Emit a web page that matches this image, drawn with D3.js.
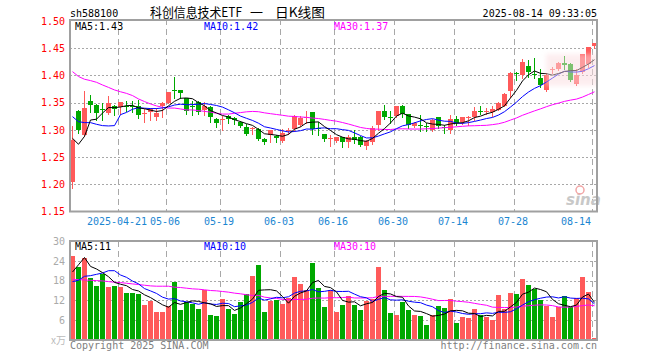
<!DOCTYPE html>
<html>
<head>
<meta charset="utf-8">
<title>科创信息技术ETF 日K线图</title>
<style>
  body { margin: 0; background: #fff; }
  svg { display: block; }
  text { font-family: "DejaVu Sans Mono", "Liberation Mono", monospace; font-size: 10px; }
</style>
</head>
<body>
<svg width="660" height="360"></svg>
<script src="https://d3js.org/d3.v7.min.js"></script>
<script>
// trading days shown, 2025-04-09 .. 2025-08-14
var dates = [
  '2025-04-09','2025-04-10','2025-04-11','2025-04-14','2025-04-15','2025-04-16','2025-04-17','2025-04-18',
  '2025-04-21','2025-04-22','2025-04-23','2025-04-24','2025-04-25','2025-04-28','2025-04-29','2025-04-30',
  '2025-05-06','2025-05-07','2025-05-08','2025-05-09','2025-05-12','2025-05-13','2025-05-14','2025-05-15',
  '2025-05-16','2025-05-19','2025-05-20','2025-05-21','2025-05-22','2025-05-23','2025-05-26','2025-05-27',
  '2025-05-28','2025-05-29','2025-05-30','2025-06-03','2025-06-04','2025-06-05','2025-06-06','2025-06-09',
  '2025-06-10','2025-06-11','2025-06-12','2025-06-13','2025-06-16','2025-06-17','2025-06-18','2025-06-19',
  '2025-06-20','2025-06-23','2025-06-24','2025-06-25','2025-06-26','2025-06-27','2025-06-30','2025-07-01',
  '2025-07-02','2025-07-03','2025-07-04','2025-07-07','2025-07-08','2025-07-09','2025-07-10','2025-07-11',
  '2025-07-14','2025-07-15','2025-07-16','2025-07-17','2025-07-18','2025-07-21','2025-07-22','2025-07-23',
  '2025-07-24','2025-07-25','2025-07-28','2025-07-29','2025-07-30','2025-07-31','2025-08-01','2025-08-04',
  '2025-08-05','2025-08-06','2025-08-07','2025-08-08','2025-08-11','2025-08-12','2025-08-13','2025-08-14'
];

var open = [
  1.205,1.334,1.291,1.353,1.346,1.339,1.331,1.344,1.342,1.344,
  1.343,1.343,1.330,1.334,1.323,1.344,1.349,1.373,1.373,1.358,
  1.344,1.352,1.335,1.342,1.320,1.318,1.326,1.322,1.314,1.306,
  1.302,1.302,1.283,1.291,1.289,1.280,1.299,1.303,1.309,1.323,
  1.332,1.303,1.293,1.284,1.278,1.286,1.277,1.286,1.286,1.270,
  1.277,1.309,1.334,1.324,1.326,1.344,1.329,1.307,1.309,1.307,
  1.299,1.323,1.305,1.299,1.320,1.313,1.322,1.323,1.334,1.333,
  1.332,1.338,1.344,1.372,1.405,1.401,1.418,1.402,1.395,1.373,
  1.410,1.411,1.422,1.421,1.384,1.407,1.422,1.453
];
var high = [
  1.307,1.336,1.372,1.364,1.347,1.349,1.362,1.345,1.352,1.353,
  1.353,1.354,1.338,1.340,1.341,1.352,1.370,1.398,1.374,1.359,
  1.353,1.353,1.351,1.343,1.321,1.326,1.327,1.324,1.317,1.311,
  1.306,1.304,1.285,1.300,1.290,1.301,1.303,1.328,1.326,1.334,
  1.332,1.315,1.293,1.291,1.287,1.287,1.291,1.300,1.288,1.282,
  1.307,1.334,1.346,1.335,1.344,1.346,1.330,1.315,1.328,1.313,
  1.320,1.324,1.309,1.328,1.326,1.324,1.326,1.342,1.344,1.340,
  1.343,1.352,1.368,1.407,1.407,1.430,1.429,1.432,1.411,1.404,
  1.415,1.424,1.436,1.422,1.411,1.440,1.453,1.460
];
var low = [
  1.194,1.294,1.289,1.332,1.318,1.319,1.329,1.328,1.330,1.334,
  1.333,1.322,1.315,1.318,1.318,1.323,1.349,1.358,1.359,1.330,
  1.328,1.330,1.328,1.315,1.306,1.300,1.312,1.310,1.305,1.291,
  1.292,1.281,1.274,1.277,1.277,1.278,1.292,1.297,1.307,1.312,
  1.292,1.291,1.280,1.271,1.277,1.268,1.269,1.275,1.270,1.264,
  1.274,1.300,1.320,1.313,1.324,1.323,1.303,1.306,1.297,1.297,
  1.297,1.303,1.294,1.295,1.309,1.311,1.309,1.318,1.329,1.329,
  1.326,1.337,1.343,1.361,1.392,1.395,1.398,1.395,1.378,1.372,
  1.405,1.410,1.411,1.389,1.383,1.405,1.416,1.451
];
var close = [
  1.282,1.299,1.340,1.346,1.331,1.338,1.350,1.339,1.352,1.343,
  1.341,1.327,1.331,1.339,1.331,1.350,1.370,1.372,1.367,1.334,
  1.343,1.334,1.343,1.323,1.312,1.320,1.320,1.318,1.306,1.293,
  1.304,1.283,1.278,1.300,1.286,1.294,1.300,1.326,1.321,1.324,
  1.300,1.302,1.283,1.285,1.286,1.277,1.286,1.280,1.272,1.280,
  1.303,1.334,1.323,1.323,1.344,1.329,1.309,1.312,1.308,1.306,
  1.318,1.306,1.304,1.320,1.313,1.323,1.323,1.334,1.333,1.334,
  1.338,1.350,1.366,1.405,1.404,1.424,1.407,1.401,1.383,1.401,
  1.411,1.422,1.419,1.392,1.401,1.440,1.453,1.459
];
// volume (万)
var volume = [
  25.4,22.2,24.9,18.8,16.3,19.9,16.0,16.3,16.0,14.1,
  14.1,13.8,10.5,11.8,8.6,8.6,10.2,17.6,9.0,11.5,
  11.0,9.4,15.3,7.7,7.4,12.3,9.4,8.0,11.5,13.8,
  19.3,22.7,8.6,11.8,12.0,10.8,12.6,19.0,16.9,15.1,
  23.4,15.8,10.0,15.1,8.6,10.5,13.2,10.5,9.0,11.7,
  12.5,22.2,15.3,8.1,7.7,11.5,9.0,7.7,7.4,4.4,
  7.6,10.2,9.7,12.3,5.1,6.9,6.6,9.3,7.6,6.9,
  6.1,13.5,9.4,14.2,13.8,18.5,16.6,15.6,12.0,10.4,
  6.9,10.0,13.2,10.0,12.8,19.1,14.5,0.6
];

// moving-average values before a full window exists
var ma5Head = [1.2845,1.2735,1.288,1.318];
var ma10Head = [1.3243,1.315,1.3133,1.3133,1.3102,1.3078,1.3072,1.3078,1.328];
var ma30Head = [1.407,1.398,1.393,1.3905,1.3874,1.3825,1.378,1.3733,1.370,1.367,
  1.363,1.3568,1.352,1.3476,1.344,1.3415,1.340,1.340,1.3384,1.3366,
  1.3366,1.3354,1.334,1.3325,1.3305,1.329,1.329,1.3305,1.3317];
var vma5Head = [20.6,22.8,25.0,22.3];
var vma10Head = [17.7,18.1,19.3,19.5,19.9,20.3,21.0,21.0,19.7];
var vma30Head = [18.3,18.3,18.2,18.1,18.0,17.9,17.7,17.5,17.4,17.2,
  17.0,16.8,16.6,16.4,16.3,16.3,16.3,16.0,15.9,15.7,
  15.5,15.4,15.2,15.0,14.9,14.7,14.5,14.2,14.0];

var priceTicks = [1.15,1.20,1.25,1.30,1.35,1.40,1.45,1.50];
var volTicks = [6,12,18,24,30];
var tickDates = ['2025-04-21','2025-05-06','2025-05-19','2025-06-03','2025-06-16','2025-06-30','2025-07-14','2025-07-28','2025-08-14'];
var tickLabels = ['2025-04-21','05-06','05-19','06-03','06-16','06-30','07-14','07-28','08-14'];

var RED = '#ff5a5a', GREEN = '#00a800';
var L = 70, R = 597;
var mainTop = 21, mainBot = 211.5;
var volTop = 241, volBot = 340;

function movingAvg(vals, n, head) {
  return vals.map(function(v, i) {
    if (i < n - 1) return head[i];
    var s = 0;
    for (var k = i - n + 1; k <= i; k++) s += vals[k];
    return s / n;
  });
}

var rows = dates.map(function(d, i) {
  return {date: d, o: open[i], h: high[i], l: low[i], c: close[i], v: volume[i]};
});
var up = function(d) { return d.c >= d.o; };

var svg = d3.select('svg');
var x = d3.scaleBand().domain(dates).range([L, R]).paddingInner(1 / 6).paddingOuter(0);
var y = d3.scaleLinear().domain([1.15, 1.50]).range([mainBot, mainTop]);
var yv = d3.scaleLinear().domain([0, 30]).range([volBot, volTop]);
var cx = function(d) { return x(d) + x.bandwidth() / 2; };

var defs = svg.append('defs');
defs.append('clipPath').attr('id', 'clipMain').append('rect')
  .attr('x', L).attr('y', mainTop - 2).attr('width', R - L).attr('height', mainBot - mainTop + 2);
defs.append('clipPath').attr('id', 'clipVol').append('rect')
  .attr('x', L).attr('y', volTop).attr('width', R - L).attr('height', volBot - volTop);
defs.append('filter').attr('id', 'soft').append('feGaussianBlur').attr('stdDeviation', 2);

// grid
function hGrid(scale, ticks) {
  svg.append('g').selectAll('line').data(ticks).enter().append('line')
    .attr('x1', L).attr('x2', R)
    .attr('y1', function(d) { return Math.round(scale(d)) + 0.5; })
    .attr('y2', function(d) { return Math.round(scale(d)) + 0.5; })
    .attr('stroke', '#a8a8a8').attr('stroke-dasharray', '2,2');
}
hGrid(y, [1.20, 1.25, 1.30, 1.35, 1.40, 1.45]);
hGrid(yv, [6, 12, 18, 24]);

[[mainTop - 2, mainBot], [volTop, volBot]].forEach(function(span) {
  svg.append('g').selectAll('line').data(tickDates).enter().append('line')
    .attr('x1', function(d) { return x(d) + 0.5; })
    .attr('x2', function(d) { return x(d) + 0.5; })
    .attr('y1', span[0]).attr('y2', span[1])
    .attr('stroke', '#a8a8a8').attr('stroke-dasharray', '6,4');
});

// candles
var gc = svg.append('g').attr('clip-path', 'url(#clipMain)');
gc.selectAll('line.wick').data(rows).enter().append('line')
  .attr('class', 'wick')
  .attr('x1', function(d) { return cx(d.date); })
  .attr('x2', function(d) { return cx(d.date); })
  .attr('y1', function(d) { return Math.round(y(d.h)); })
  .attr('y2', function(d) { return Math.round(y(d.l)) + 1; })
  .attr('stroke', function(d) { return up(d) ? RED : GREEN; })
  .attr('shape-rendering', 'crispEdges');
gc.selectAll('rect.body').data(rows).enter().append('rect')
  .attr('class', 'body')
  .attr('x', function(d) { return x(d.date); })
  .attr('width', x.bandwidth())
  .attr('y', function(d) { return Math.round(y(Math.max(d.o, d.c))); })
  .attr('height', function(d) { return Math.max(1, Math.round(Math.abs(y(d.o) - y(d.c)))); })
  .attr('fill', function(d) { return up(d) ? RED : GREEN; })
  .attr('shape-rendering', 'crispEdges');

var ma5 = movingAvg(close, 5, ma5Head);
var ma10 = movingAvg(close, 10, ma10Head);
var ma30 = movingAvg(close, 30, ma30Head);
var vma5 = movingAvg(volume, 5, vma5Head);
var vma10 = movingAvg(volume, 10, vma10Head);
var vma30 = movingAvg(volume, 30, vma30Head);

function drawLine(g, vals, scale, color) {
  var line = d3.line()
    .x(function(d, i) { return cx(dates[i]); })
    .y(function(d) { return scale(d); });
  g.append('path').datum(vals).attr('d', line)
    .attr('fill', 'none').attr('stroke', color).attr('stroke-width', 1);
}
drawLine(gc, ma30, y, '#ff00ff');
drawLine(gc, ma10, y, '#0000ff');
drawLine(gc, ma5, y, '#000000');

// faint overlay patch and sina mark
gc.append('rect').attr('x', 546).attr('y', 54).attr('width', 58).attr('height', 32)
  .attr('fill', '#fbdde1').attr('opacity', 0.5).attr('filter', 'url(#soft)');
svg.append('text').attr('x', 566).attr('y', 205)
  .style('font-family', '"DejaVu Sans", sans-serif').style('font-size', '15px')
  .style('font-style', 'italic').style('font-weight', 'bold')
  .attr('fill', '#c8c8c8').text('sina');
svg.append('circle').attr('cx', 580).attr('cy', 190).attr('r', 4)
  .attr('fill', 'none').attr('stroke', '#f2a6a6').attr('stroke-width', 1.5);

// volume
var gv = svg.append('g').attr('clip-path', 'url(#clipVol)');
gv.selectAll('rect').data(rows).enter().append('rect')
  .attr('x', function(d) { return x(d.date); })
  .attr('width', x.bandwidth())
  .attr('y', function(d) { return Math.round(yv(d.v)); })
  .attr('height', function(d) { return volBot - Math.round(yv(d.v)); })
  .attr('fill', function(d) { return up(d) ? RED : GREEN; })
  .attr('shape-rendering', 'crispEdges');
drawLine(gv, vma30, yv, '#ff00ff');
drawLine(gv, vma10, yv, '#0000ff');
drawLine(gv, vma5, yv, '#000000');

// frames
svg.append('rect').attr('x', L).attr('y', mainTop - 1).attr('width', R - L).attr('height', mainBot - mainTop + 1)
  .attr('fill', 'none').attr('stroke', '#a0a0a0').attr('stroke-width', 2);
svg.append('rect').attr('x', L).attr('y', volTop).attr('width', R - L).attr('height', volBot - volTop)
  .attr('fill', 'none').attr('stroke', '#a0a0a0').attr('stroke-width', 2);

// axes
var ay = svg.append('g').attr('transform', 'translate(' + L + ',0)')
  .call(d3.axisLeft(y).tickValues(priceTicks).tickFormat(d3.format('.2f')).tickSize(0).tickPadding(5));
ay.select('.domain').remove();
ay.selectAll('text').attr('fill', '#ff0000').style('font-family', '"DejaVu Sans Mono", monospace').style('font-size', '10px');

var av = svg.append('g').attr('transform', 'translate(' + L + ',0)')
  .call(d3.axisLeft(yv).tickValues(volTicks).tickFormat(d3.format('d')).tickSize(0).tickPadding(5));
av.select('.domain').remove();
av.selectAll('text').attr('fill', '#aaaaaa').style('font-family', '"DejaVu Sans Mono", monospace').style('font-size', '10px');

var ax = svg.append('g').attr('transform', 'translate(0,' + mainBot + ')')
  .call(d3.axisBottom(x).tickValues(tickDates)
    .tickFormat(function(d) { return tickLabels[tickDates.indexOf(d)]; })
    .tickSize(0).tickPadding(6.5));
ax.select('.domain').remove();
ax.selectAll('text').attr('fill', '#1c86d1').attr('x', -3.5)
  .style('font-family', '"DejaVu Sans Mono", monospace').style('font-size', '10px');
ax.selectAll('.tick').filter(function(d) { return d === '2025-08-14'; }).select('text')
  .attr('text-anchor', 'end').attr('x', 591 - cx('2025-08-14'));

// header and labels
svg.append('text').attr('x', 70).attr('y', 16.5).attr('fill', '#000').text('sh588100');
var titleParts = [['科创信息技术ETF', 150, 92], ['一', 250, 13], ['日K线图', 275, 50]];
svg.append('g').selectAll('text').data(titleParts).enter().append('text')
  .attr('x', function(d) { return d[1]; }).attr('y', 17)
  .attr('textLength', function(d) { return d[2]; }).attr('lengthAdjust', 'spacingAndGlyphs')
  .style('font-family', '"Noto Sans CJK SC", sans-serif').style('font-size', '13px')
  .attr('fill', '#000').text(function(d) { return d[0]; });
svg.append('text').attr('x', 597).attr('y', 16.5).attr('text-anchor', 'end').attr('fill', '#000')
  .text('2025-08-14 09:33:05');

var f2 = d3.format('.2f');
var last = dates.length - 1;
svg.append('text').attr('x', 75).attr('y', 29.5).attr('fill', '#000').text('MA5:' + f2(ma5[last]));
svg.append('text').attr('x', 204).attr('y', 29.5).attr('fill', '#0000ff').text('MA10:' + f2(ma10[last]));
svg.append('text').attr('x', 334).attr('y', 29.5).attr('fill', '#ff00ff').text('MA30:' + f2(ma30[last]));

svg.append('text').attr('x', 75).attr('y', 250).attr('fill', '#000').text('MA5:' + Math.floor(vma5[last]));
svg.append('text').attr('x', 204).attr('y', 250).attr('fill', '#0000ff').text('MA10:' + Math.floor(vma10[last]));
svg.append('text').attr('x', 334).attr('y', 250).attr('fill', '#ff00ff').text('MA30:' + Math.floor(vma30[last]));

svg.append('text').attr('x', 66).attr('y', 344).attr('text-anchor', 'end')
  .style('font-family', '"Noto Sans CJK SC", sans-serif').style('font-size', '10px')
  .attr('fill', '#bbbbbb').text('x万');
svg.append('text').attr('x', 70).attr('y', 349).attr('fill', '#808080').text('Copyright 2025 SINA.COM');
svg.append('text').attr('x', 597).attr('y', 349).attr('text-anchor', 'end').attr('fill', '#808080')
  .text('http://finance.sina.com.cn');
</script>
</body>
</html>
